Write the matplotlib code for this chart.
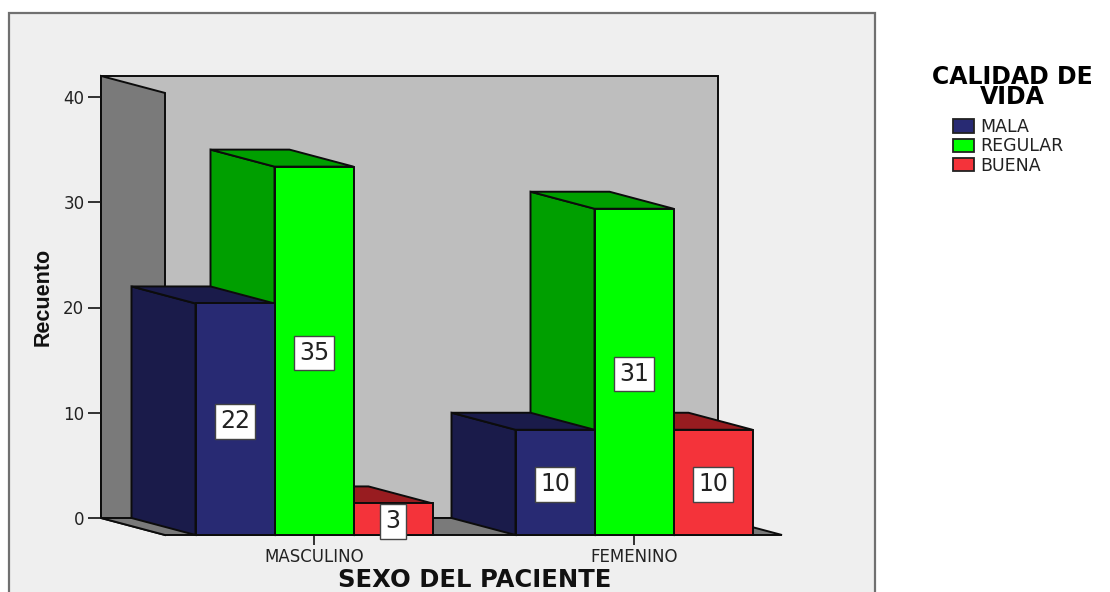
import matplotlib
matplotlib.use('Agg')
import matplotlib.pyplot as plt
from matplotlib.patches import Polygon, Patch, Rectangle

#datos de la tabla de contingencia
sexo = ['MASCULINO', 'FEMENINO']
calidad = ['MALA', 'REGULAR', 'BUENA']
mala = [22, 10]
regular = [35, 31]
buena = [3, 10]
yticks = [0, 10, 20, 30, 40]

front_col = ['#282a73', '#00ff00', '#f4333a']
dark_col = ['#1a1b4a', '#009f00', '#981c20']
EDGE = '#0c0c0c'

W, H = 1110, 592
BAR_W = 79 / 320.
DX = -64 / 320.   # desplazamiento de profundidad
DY = 17 / 10.525
WALL_TOP = 42

plt.rcParams['font.family'] = 'DejaVu Sans'
fig = plt.figure(figsize=(W / 100., H / 100.), dpi=100, facecolor='white')

# panel de fondo en coordenadas de figura
fig.add_artist(Rectangle((9 / W, -0.01), 866 / W, (H - 13) / H + 0.01,
                         transform=fig.transFigure, fc='#efefef', ec='#707070', lw=1.6, zorder=-5))

# ejes a toda la figura: x en categorias, y en recuento sobre el plano frontal
ax = fig.add_axes([0, 0, 1, 1])
ax.set_xlim((0 - 314) / 320., (W - 314) / 320.)
ax.set_ylim((535 - H) / 10.525, 535 / 10.525)
ax.patch.set_visible(False)


def poly(pts, col, z):
    ax.add_patch(Polygon(pts, closed=True, fc=col, ec=EDGE, lw=1.4, zorder=z, joinstyle='miter'))


# paredes y suelo
xl, xr = -149 / 320., 468 / 320.
poly([(xl + DX, DY), (xr + DX, DY), (xr + DX, WALL_TOP + DY), (xl + DX, WALL_TOP + DY)], '#bebebe', 1)
poly([(xl + DX, DY), (xl, 0), (xl, WALL_TOP), (xl + DX, WALL_TOP + DY)], '#7a7a7a', 2)
poly([(xl + DX, DY), (xr + DX, DY), (xr, 0), (xl, 0)], '#7a7a7a', 2)


def bar3d(x0, val, k, z):
    x1 = x0 + BAR_W
    poly([(x0, 0), (x0 + DX, DY), (x0 + DX, val + DY), (x0, val)], dark_col[k], z)
    poly([(x0, val), (x0 + DX, val + DY), (x1 + DX, val + DY), (x1, val)], dark_col[k], z)
    poly([(x0, 0), (x1, 0), (x1, val), (x0, val)], front_col[k], z + 0.1)


series = [mala, regular, buena]
# de derecha a izquierda para que las caras tapen bien
z = 3
for g in [1, 0]:
    for k in [2, 1, 0]:
        x0 = g + (k - 1.5) * BAR_W
        val = series[k][g]
        bar3d(x0, val, k, z)
        z += 1
for g in [1, 0]:
    for k in [2, 1, 0]:
        val = series[k][g]
        ax.text(g + (k - 1) * BAR_W, val / 2. - 0.2, str(val), ha='center', va='center',
                fontsize=17, color='#222222', zorder=20,
                bbox=dict(fc='white', ec='#444444', lw=1, boxstyle='square,pad=0.22'))

# eje x
ax.set_yticks([])
ax.set_xticks(range(len(sexo)))
ax.set_xticklabels(sexo)
ax.tick_params(axis='x', length=7, width=1.2, pad=2.5, color='#111111', labelsize=12, labelcolor='#222222')
ax.spines['bottom'].set_position(('data', 0))
for s in ['top', 'left', 'right', 'bottom']:
    ax.spines[s].set_visible(False)
ax.text((474.5 - 314) / 320., (535 - 580) / 10.525, 'SEXO DEL PACIENTE', ha='center', va='center',
        fontsize=17.5, fontweight='bold', color='#111111')

# eje y sobre el plano trasero
ax_y = fig.add_axes([101 / W, (H - 518) / H, 0.001, (518 - 97) / H])
ax_y.set_ylim(0, 40)
ax_y.set_xticks([])
ax_y.set_yticks(yticks)
ax_y.patch.set_visible(False)
for s in ['top', 'left', 'right', 'bottom']:
    ax_y.spines[s].set_visible(False)
ax_y.tick_params(axis='y', length=9.5, width=1.2, pad=2.5, labelsize=12, color='#111111', labelcolor='#222222')
ax.text((43 - 314) / 320., (535 - 297) / 10.525, 'Recuento', rotation=90, ha='center', va='center',
        fontsize=15.5, fontweight='bold', family=['Liberation Sans'], color='#111111')

# leyenda
fig.text(1012 / W, 1 - 87 / H, 'CALIDAD DE\nVIDA', ha='center', va='center', multialignment='center',
         fontsize=17, fontweight='bold', linespacing=0.8, color='#000000')
handles = [Patch(fc=front_col[k], ec='#222222', lw=1.3) for k in range(3)]
leg = fig.legend(handles, calidad, loc='upper left', bbox_to_anchor=(953 / W, 1 - 118 / H),
                 frameon=False, fontsize=12.5, alignment='left',
                 handlelength=1.2, handleheight=0.8, handletextpad=0.38, labelspacing=0.08,
                 borderpad=0, borderaxespad=0, labelcolor='#222222')

plt.savefig('out.png', dpi=100)
